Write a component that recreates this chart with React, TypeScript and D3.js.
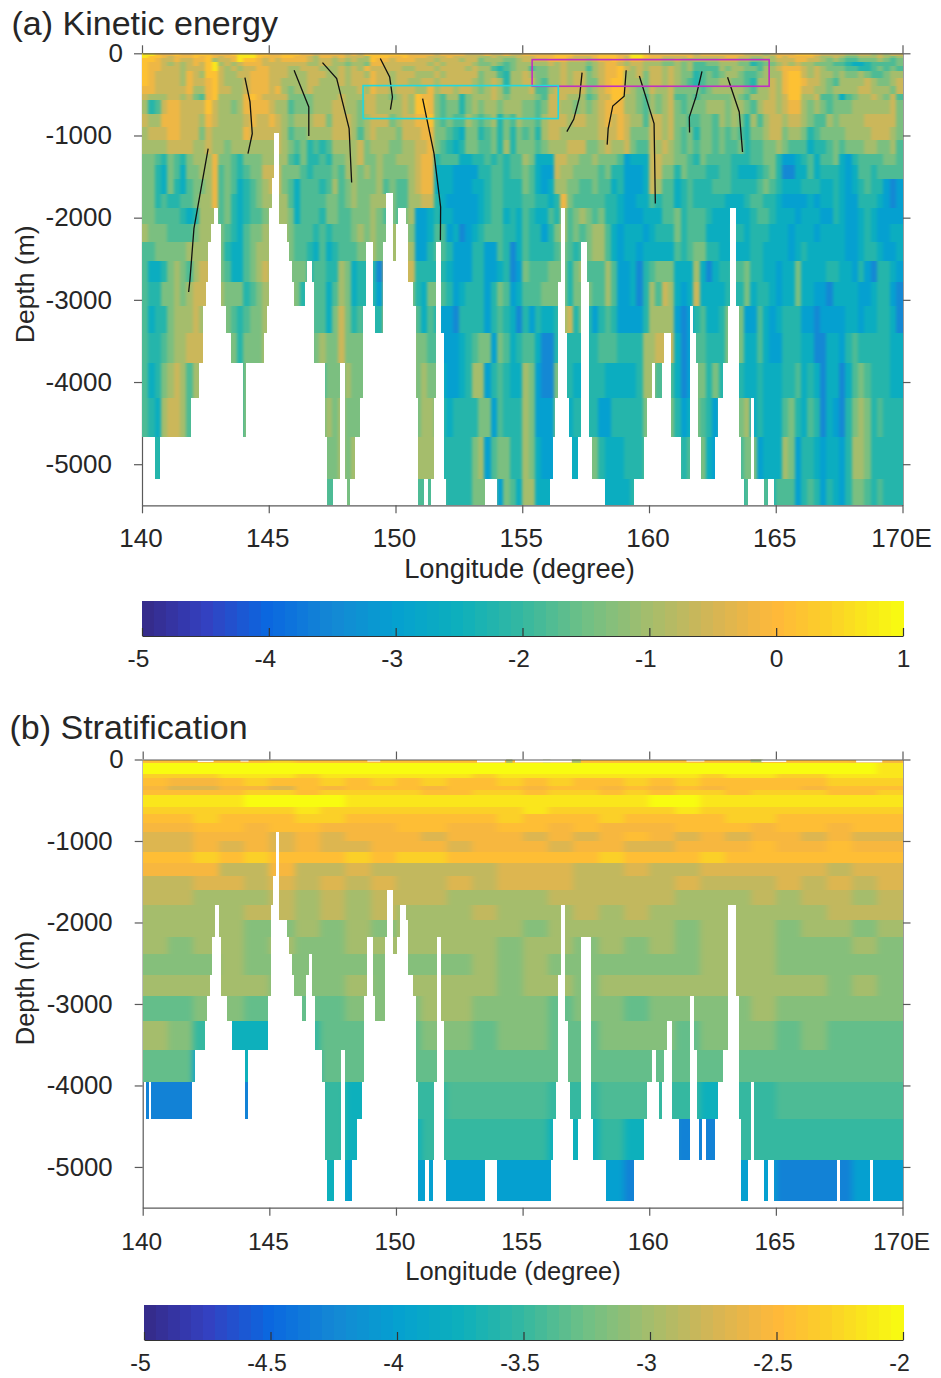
import {useRef, useEffect} from "react";
import * as d3 from "d3";

const width = 941;
const height = 1378;

// colour table, position 0..1 along the bar
const mapPos = [0, 0.083, 0.167, 0.25, 0.333, 0.417, 0.5, 0.583, 0.667, 0.75, 0.833, 0.9, 1];
const mapCol = ["#352a87", "#3440c0", "#0a68e0", "#1488d4", "#05a0d0", "#0db0bc", "#35b8a0", "#70c085", "#a5bd6c", "#d5b555", "#ffb83a", "#fbd028", "#f8fc10"];

// kinetic energy: row edges (m) and one string per row, one digit per 0.25 degree
const keEdges = [0, 30, 60, 100, 150, 220, 300, 400, 490, 572, 733, 900, 1058, 1229, 1362, 1525, 1708, 1886, 2080, 2300, 2530, 2786, 3078, 3406, 3771, 4197, 4672, 5182, 5500];
const keLevels = [-3.5, -3, -2.6, -2.2, -1.8, -1.4, -1, -0.6, -0.2, 0.15, 0.7];
const keRows = [
  "aa98898899 98889aaa99 8899988788 8878799999 9988887888 8777877877 8888899988 8899988aa9 8888888788 8888877767 8889998777 7667767677",
  "a998788898 98788aaa98 8899887688 7877769998 8988877787 7776676667 7788899877 7899987aa9 8877778777 7788776676 8788887667 6556667656",
  "9987787788 96778a9987 8788887677 6767669887 8887776777 6775666556 7777888777 6788987887 7766766666 6777665566 7778877656 5445556545",
  "9887676787 9a67678887 7777776677 6656658877 7777767677 7765565456 6666767666 5678876776 6655656445 5666553455 6767665554 4322344445",
  "9887776777 9a76767788 7776677766 6767687777 7667776777 7676643456 6455667666 4678897676 7767656444 4656655466 7888767655 5443345454",
  "9877776876 9976677888 7776667776 6767768776 7776667677 7775664366 7655667677 5678896675 7767655345 4566544566 6899767665 6556544566",
  "9877776877 8976667888 7766667766 6767778776 7766776777 7765676366 7754667677 5578996665 7767654345 5665543667 6899877654 6666765567",
  "8877777866 8977667888 7865667666 6666768776 7776686776 7765676466 6744677777 5678997655 7667555545 6666654667 6899776656 6667766657",
  "7666776754 8966668987 7775555666 6766677665 6769885466 3566676566 6654777666 4577996654 6567445455 5556546667 6799667445 2456676574",
  "6347887777 9766568888 7664555666 7766577666 6769985455 3565665666 5545776656 5678886654 6567545556 6656654677 6788656545 5566666675",
  "7668887776 8766667877 8765666775 7776567775 6778895454 4654563546 5546777677 6678787664 7767554455 4656536467 7677654465 6666777775",
  "6777887775 7666668777 7764556666 7776467666 5777885543 2553453535 4536776666 6677787555 7767545355 4545435567 7566534555 5666677765",
  "6666777766 7665666666 6765453434 6666756665 5667785432 3554453635 5545666777 5567667544 7676545455 4544534455 6544423345 4555665564",
  "5543543566 6855435556 6664353343 5566755655 6667883444 2233434344 6522277665 5655541222 7766554354 4443334455 3112342445 2134444554",
  "5532542556 6845434557 7755543444 5466565655 5567882221 1113344344 5421176655 5545331112 7755354443 3443222345 3002242333 2124434444",
  "5532532455 6845423456 7754244434 6456555645 4467882221 1122344333 5421266554 4544231112 7644234333 4443333454 3222333223 2123433101",
  "5534334456 6845323456 6664244445 5456556665 4466773211 1112344333 4433238544 4443321122 4344234333 3322234433 2111121223 2113332101",
  "5544443236 6645323445 6665244435 5445556545 4561123221 1112344232 4322436456 5453321112 2244534443 2222223443 2221222113 2112321111",
  "6555444456 6654324556 6665444343 4445656556 6651124412 0123444332 4331356454 5664212221 2333534442 2223323332 2212221222 2112321122",
  "4455555666 6553224566 6665443242 3444556556 6761134431 1133114302 4333345434 5664212212 2222434553 3222223322 2212322222 2112332112",
  "4223565467 7554224567 6665553443 3652333077 7773333321 1133112301 5444555356 4446411203 4555222620 2334453322 1225222233 2213103321",
  "4335565677 7765553456 6666535442 4652333177 7653255431 2333135412 4445555355 5446411203 6476212722 2233352332 1225221102 2221123310",
  "4233566676 5555434556 6666555442 5753433377 7774243110 3333134320 3132236735 3134311113 6666101342 2355511421 2333110111 1221223320",
  "4334566777 7765535556 6666554565 5755554777 7775544111 2345515423 4420033333 3344433336 6777201443 3355522421 1333220022 1343333322",
  "4235676466 7765535556 6666555545 5565555777 7775655211 2366134322 6510053322 3332222236 6444201553 5333322322 2334232022 0245433322",
  "4326776444 7765535556 6666555556 5655555777 7775665323 3335514333 6511155233 3311333335 5555312543 1555562322 2453243021 0356534333",
  "3332443333 7765535556 6666666655 5656555555 7776666333 3356145533 6521122222 5532223334 4444434452 1444455122 2651332122 1366533333",
  "3333333333 5555555555 5555555554 4454444444 4444444433 3355551542 6622222222 2222222343 3333333333 3333344443 4441343132 1355434333",
];
// sea floor under the kinetic energy section: end longitude of each stretch and its depth (m)
const keFloorLon = [140.51, 140.71, 141.93, 142.21, 142.40, 142.52, 142.60, 142.72, 142.84, 143.00, 143.11, 143.31, 143.51, 143.98, 144.10, 144.81, 144.93, 145.00, 145.12, 145.20, 145.40, 145.71, 145.79, 145.91, 145.99, 146.42, 146.50, 146.70, 146.78, 147.21, 147.29, 147.53, 147.80, 148.00, 148.08, 148.20, 148.39, 148.59, 148.71, 148.83, 149.10, 149.18, 149.50, 149.61, 149.89, 150.00, 150.09, 150.40, 150.48, 150.68, 150.80, 150.87, 151.11, 151.27, 151.39, 151.50, 151.58, 151.78, 151.90, 151.98, 153.51, 153.99, 156.08, 156.19, 156.27, 156.39, 156.51, 156.67, 156.78, 156.86, 156.98, 157.18, 157.30, 157.57, 157.65, 157.77, 158.28, 159.38, 159.78, 159.90, 160.09, 160.25, 160.49, 160.57, 160.88, 161.28, 161.59, 161.75, 161.87, 161.95, 162.06, 162.58, 162.69, 162.89, 163.09, 163.17, 163.44, 163.56, 163.64, 163.76, 163.88, 163.99, 164.15, 164.55, 164.66, 164.94, 170];
const keFloorDepth = [4672, 5182, 4672, 4197, 3771, 3078, 2786, 2300, 2080, 1886, 2080, 3078, 3406, 3771, 4672, 3771, 3406, 3078, 1886, 1520, 973, 2080, 2300, 2530, 2786, 3078, 2786, 2530, 2786, 3771, 4672, 5500, 5182, 3771, 5182, 5500, 5182, 4672, 4197, 3078, 2300, 3078, 3406, 2300, 1703, 2530, 2080, 1886, 2080, 2786, 3078, 4197, 5500, 5182, 5500, 5182, 4197, 2300, 3406, 5182, 5500, 5182, 5500, 5182, 4672, 4197, 2786, 1886, 3406, 4197, 4672, 5182, 4672, 2300, 2786, 4672, 5182, 5500, 5182, 4672, 4197, 3771, 4197, 3771, 3406, 4672, 5182, 3078, 3406, 3771, 4672, 5182, 4672, 4197, 3771, 3078, 1886, 3078, 4672, 5182, 5500, 5182, 4197, 5182, 5500, 5182, 5500];

// stratification: row edges (m) and one string per row, one digit per degree
const strEdges = [0, 49, 184, 233, 331, 380, 441, 588, 674, 784, 895, 1005, 1140, 1274, 1434, 1605, 1789, 1973, 2181, 2390, 2647, 2904, 3211, 3566, 3958, 4412, 4914, 5417];
const strLevels = [-4.3, -4, -3.75, -3.5, -3.3, -3.15, -3, -2.85, -2.7, -2.55, -2.45, -2.3, -2.15, -2, -3.4];
const strRows = [
  "aaaaa baaaa aaaaa aaaaa aaaaa aaa99",
  "ddddd ddddd ddddd ddddd ddddd ddddc",
  "bbbcc cbccc cccbc ccccc ccbcc bbccc",
  "a99ab aabab abaab abaab abaaa aabbb",
  "98899 8a9aa a9aaa 9aa9a 9a9aa a9aaa",
  "aaaab babbb baabb abbab abbab bbaab",
  "ccccd dddcc ccccc ccccc ddccc ccccc",
  "bbbbb bcbbb bbbbb cbbbb bcbbb bbbbb",
  "aabaa abbaa aaaab aaaba aaabb aaaaa",
  "99aa9 aa999 aa99a a9a99 9aaa9 aa9aa",
  "88999 89899 98999 8989a 98989 98988",
  "88989 89889 99899 98998 8999a 99a99",
  "aabab aaaba bbaaa aaaba aabaa aaaaa",
  "99977 97787 77778 88778 77888 88788",
  "77887 87878 77878 88777 78777 87878",
  "77666 76767 77666 67777 76667 67767",
  "66667 76767 66676 66767 66666 66777",
  "66665 56565 66666 56666 65666 56656",
  "65665 65566 66665 66565 65666 55565",
  "55565 55555 55565 65555 55666 55555",
  "66666 55565 66665 66566 66666 66565",
  "44554 44455 56655 54554 55556 55555",
  "65322 23444 45545 54455 54555 45444",
  "44122 22444 44444 44444 44444 44444",
  "00000 00322 33eee e33ee 33233 eeeee",
  "22222 22322 23333 32232 30033 33333",
  "11111 11211 11111 11110 11111 00011",
];
const strFloorLon = [140.12, 140.24, 140.32, 141.93, 142.05, 142.44, 142.52, 142.64, 142.72, 142.84, 143.03, 143.11, 143.31, 143.51, 144.02, 144.14, 144.93, 145.04, 145.12, 145.24, 145.40, 145.71, 145.79, 145.91, 145.99, 146.30, 146.42, 146.54, 146.70, 146.82, 147.09, 147.21, 147.29, 147.53, 147.80, 148.00, 148.23, 148.43, 148.63, 148.71, 148.83, 149.10, 149.18, 149.53, 149.61, 149.89, 150.01, 150.13, 150.40, 150.48, 150.68, 150.80, 150.87, 151.11, 151.31, 151.43, 151.50, 151.62, 151.78, 151.90, 151.98, 153.51, 153.99, 156.11, 156.19, 156.31, 156.39, 156.51, 156.67, 156.78, 156.86, 156.98, 157.18, 157.30, 157.69, 157.77, 158.28, 159.38, 159.78, 159.90, 160.09, 160.25, 160.37, 160.49, 160.57, 160.69, 160.88, 161.16, 161.59, 161.75, 161.87, 161.95, 162.06, 162.26, 162.58, 162.69, 162.89, 163.09, 163.44, 163.56, 163.64, 163.88, 163.99, 164.15, 164.55, 164.66, 164.94, 167.38, 167.54, 168.68, 168.84, 170];
const strFloorDepth = [3958, 4412, 3958, 4412, 3958, 3566, 3211, 2904, 2647, 2181, 1789, 2181, 2904, 3211, 3566, 4412, 3566, 2904, 1789, 1434, 895, 1973, 2181, 2390, 2647, 2904, 3211, 2647, 2390, 2904, 3566, 3958, 4914, 5417, 4914, 3566, 5417, 4914, 4412, 3958, 2904, 2181, 2904, 3211, 2181, 1605, 2390, 2181, 1789, 1973, 2647, 2904, 3958, 5417, 4914, 5417, 4914, 3958, 2181, 3211, 4914, 5417, 4914, 5417, 4914, 4412, 3958, 2647, 1789, 3211, 3958, 4412, 4914, 4412, 2181, 4412, 4914, 5417, 4914, 4412, 3958, 3566, 3958, 4412, 3958, 3566, 3211, 4412, 4914, 2904, 3566, 4412, 4914, 4412, 4914, 4412, 3958, 3566, 1789, 2904, 4412, 5417, 4914, 3958, 4914, 5417, 4914, 5417, 4914, 5417, 4914, 5417];
// empty notches at the surface of panel (b): start, end longitude and depth reached
const strNotches = [
  [142.17, 142.8, 30], [143.86, 144.18, 25], [148.87, 149.38, 25], [153.2, 154.3, 35],
  [154.7, 156.94, 35], [161.47, 162.18, 25], [164.43, 165.41, 30], [168.17, 169.2, 35],
];
const strSpecks = [[154.35, 154.6, 40], [155.8, 156.1, 35], [156.95, 157.3, 40], [164.0, 164.5, 35]];

// hand drawn black tracks on panel (a), [longitude, depth] pairs
const keTracks = [
  [[142.61, 1159], [142.05, 2129], [141.89, 2762], [141.84, 2904]],
  [[144.06, 296], [144.26, 592], [144.35, 977], [144.18, 1220]],
  [[146.0, 207], [146.58, 653], [146.58, 1006]],
  [[147.12, 113], [147.68, 308], [148.17, 916], [148.27, 1573]],
  [[149.4, 64], [149.77, 288], [149.88, 532], [149.8, 685]],
  [[151.07, 551], [151.52, 1220], [151.78, 1870], [151.77, 2275]],
  [[157.36, 235], [157.26, 532], [157.03, 803], [156.76, 953]],
  [[159.1, 207], [159.02, 523], [158.57, 641], [158.39, 916], [158.35, 1111]],
  [[159.62, 276], [160.2, 855], [160.25, 1828]],
  [[162.09, 219], [161.85, 532], [161.59, 775], [161.6, 965]],
  [[163.1, 292], [163.56, 714], [163.69, 1201]],
];
const keBoxes = [
  {lon: [155.39, 164.74], depth: [77, 401], color: "#c030c0"},
  {lon: [148.72, 156.42], depth: [393, 794], color: "#20d8e0"},
];
const lonTicks = [140, 145, 150, 155, 160, 165, 170];
const lonLabels = ["140", "145", "150", "155", "160", "165", "170E"];
const depthTicks = [0, -1000, -2000, -3000, -4000, -5000];
const keBarTicks = [-5, -4, -3, -2, -1, 0, 1];
const strBarTicks = [-5, -4.5, -4, -3.5, -3, -2.5, -2];

const textColor = "#262626";
const font = "'Liberation Sans', Arial, sans-serif";
const ramp = d3.scaleLinear<string>().domain(mapPos).range(mapCol).interpolate(d3.interpolateRgb);

function drawPanel(svg: any, o: any) {
  const x = d3.scaleLinear([140, 170], [o.left, o.right]);
  const y = d3.scaleLinear([0, -5500], [o.top, o.bottom]);
  const color = (v: number) => ramp((v - o.domain[0]) / (o.domain[1] - o.domain[0]));
  const nCols = o.rows[0].replace(/ /g, "").length;
  const lonStep = 30 / nCols;
  const g = svg.append("g");

  // left and right axes sit under the cells
  const leftAxis = g.append("g").attr("transform", `translate(${o.left},0)`)
    .call(d3.axisLeft(y).tickValues(depthTicks).tickSize(8).tickSizeOuter(0).tickFormat((d: any) => String(d)));
  leftAxis.selectAll("text").attr("x", (d: number) => (d === 0 ? -19 : -30)).attr("font-size", o.yTickFont);
  g.append("g").attr("transform", `translate(${o.right},0)`)
    .call(d3.axisRight(y).tickValues(depthTicks).tickSize(8).tickSizeOuter(0).tickFormat(() => ""));

  const clip = g.append("clipPath").attr("id", o.id);
  o.floorLon.forEach((lon: number, i: number) => {
    const start = i ? o.floorLon[i - 1] : 140;
    clip.append("rect").attr("x", x(start)).attr("width", x(lon) - x(start) + 0.5)
      .attr("y", o.top).attr("height", y(-o.floorDepth[i]) - o.top)
      .attr("shape-rendering", "crispEdges");
  });

  const blur = g.append("filter").attr("id", o.id + "Blur").attr("filterUnits", "userSpaceOnUse")
    .attr("x", 0).attr("y", 0).attr("width", width).attr("height", height)
    .attr("color-interpolation-filters", "sRGB");
  blur.append("feGaussianBlur").attr("stdDeviation", o.blur);

  const cells = g.append("g").attr("clip-path", `url(#${o.id})`)
    .append("g").attr("filter", `url(#${o.id}Blur)`).attr("shape-rendering", "crispEdges");
  o.rows.forEach((row: string, r: number) => {
    row.replace(/ /g, "").split("").forEach((c, i) => {
      // edge cells run past the frame so the blur does not fade at the border
      const x0 = x(140 + i * lonStep) - (i === 0 ? 12 : 0);
      const x1 = x(140 + (i + 1) * lonStep) + (i === nCols - 1 ? 12 : 0.5);
      const y0 = y(-o.edges[r]) - (r === 0 ? 12 : 0);
      const y1 = y(-o.edges[r + 1]) + (r === o.rows.length - 1 ? 12 : 0.5);
      cells.append("rect").attr("x", x0).attr("width", x1 - x0).attr("y", y0).attr("height", y1 - y0)
        .attr("fill", color(o.levels[parseInt(c, 16)]));
    });
  });

  (o.specks || []).forEach((n: number[]) => {
    g.append("rect").attr("x", x(n[0])).attr("width", x(n[1]) - x(n[0]))
      .attr("y", y(0)).attr("height", y(-n[2]) - y(0)).attr("fill", "#a5bd6c");
  });
  (o.notches || []).forEach((n: number[]) => {
    g.append("rect").attr("x", x(n[0])).attr("width", x(n[1]) - x(n[0]))
      .attr("y", y(0)).attr("height", y(-n[2]) - y(0)).attr("fill", "#fff");
  });

  (o.tracks || []).forEach((t: number[][]) => {
    g.append("path").attr("fill", "none").attr("stroke", "#111").attr("stroke-width", 1.3)
      .attr("d", d3.line().x((d: any) => x(d[0])).y((d: any) => y(-d[1]))(t as any));
  });
  (o.boxes || []).forEach((b: any) => {
    g.append("rect").attr("fill", "none").attr("stroke", b.color).attr("stroke-width", 1.6)
      .attr("x", x(b.lon[0])).attr("width", x(b.lon[1]) - x(b.lon[0]))
      .attr("y", y(-b.depth[0])).attr("height", y(-b.depth[1]) - y(-b.depth[0]));
  });

  const bottomAxis = g.append("g").attr("transform", `translate(0,${o.bottom})`)
    .call(d3.axisBottom(x).tickValues(lonTicks).tickSize(8).tickSizeOuter(0).tickPadding(o.xPad)
      .tickFormat((_: any, i: number) => lonLabels[i]));
  bottomAxis.selectAll("text").attr("font-size", o.tickFont).attr("dx", -1.5);
  g.append("g").attr("transform", `translate(0,${o.top})`)
    .call(d3.axisTop(x).tickValues(lonTicks).tickSize(8).tickSizeOuter(0).tickFormat(() => ""));

  g.append("text").attr("x", o.titleX).attr("y", o.titleY).attr("font-size", 34).text(o.title);
  g.append("text").attr("x", o.xLabelX).attr("y", o.bottom + 72.5).attr("text-anchor", "middle")
    .attr("font-size", o.xLabelSize).text("Longitude (degree)");
  g.append("text").attr("transform", `translate(33.5,${(o.top + o.bottom) / 2 + 5}) rotate(-90)`)
    .attr("text-anchor", "middle").attr("font-size", o.depthSize).text("Depth (m)");

  g.selectAll(".domain, .tick line").attr("stroke", "#5a5a5a").attr("stroke-width", 1.2);

  // colour bar, 64 flat steps like the original
  const bx = d3.scaleLinear(o.domain, [o.barLeft, o.right + 0.5]);
  const steps = d3.range(64);
  g.append("g").attr("shape-rendering", "crispEdges").selectAll("rect").data(steps).enter().append("rect")
    .attr("x", (d: number) => o.barLeft + d * (o.right + 0.5 - o.barLeft) / 64)
    .attr("width", (o.right + 0.5 - o.barLeft) / 64 + 0.5)
    .attr("y", o.barTop).attr("height", 35)
    .attr("fill", (d: number) => ramp((d + 0.5) / 64));
  const barAxis = g.append("g").attr("transform", `translate(0,${o.barTop + 35})`)
    .call(d3.axisBottom(bx).tickValues(o.barTicks).tickSize(-8).tickSizeOuter(0).tickPadding(o.barPad).tickFormat((d: any) => String(d)));
  barAxis.selectAll("text").attr("font-size", o.barFont).attr("dx", (d: number) => (d < 0 ? -4 : 0));
  barAxis.selectAll(".domain, .tick line").attr("stroke", "#333").attr("stroke-width", 1.2);

  g.selectAll("text").attr("fill", textColor).attr("font-family", font);
}

export default function App() {
  const root = useRef<SVGSVGElement>(null);

  useEffect(() => {
    const svg = d3.select(root.current);
    svg.selectAll("*").remove();
    drawPanel(svg, {
      id: "clipKe", left: 142, right: 902.5, top: 53.3, bottom: 505.3,
      rows: keRows, edges: keEdges, levels: keLevels, domain: [-5, 1], blur: "1.8 0.6",
      floorLon: keFloorLon, floorDepth: keFloorDepth, tracks: keTracks, boxes: keBoxes,
      title: "(a) Kinetic energy", titleX: 11.5, titleY: 35, xLabelX: 519.5, xLabelSize: 27.3,
      tickFont: 26, yTickFont: 26, xPad: 15, depthSize: 26.5,
      barLeft: 142, barTop: 601, barTicks: keBarTicks, barFont: 24.5, barPad: 14,
    });
    drawPanel(svg, {
      id: "clipStr", left: 142.7, right: 902.5, top: 759.5, bottom: 1207.7,
      rows: strRows, edges: strEdges, levels: strLevels, domain: [-5, -2], blur: "3 0.2",
      floorLon: strFloorLon, floorDepth: strFloorDepth, notches: strNotches, specks: strSpecks,
      title: "(b) Stratification", titleX: 9.5, titleY: 739, xLabelX: 513, xLabelSize: 25.5,
      tickFont: 24.5, yTickFont: 25.8, xPad: 17, depthSize: 25.5,
      barLeft: 144, barTop: 1305, barTicks: strBarTicks, barFont: 23, barPad: 15,
    });
  }, []);

  return (
    <svg ref={root} width={width} height={height}
      style={{position: "absolute", left: 0, top: 0, background: "#fff"}} />
  );
}
